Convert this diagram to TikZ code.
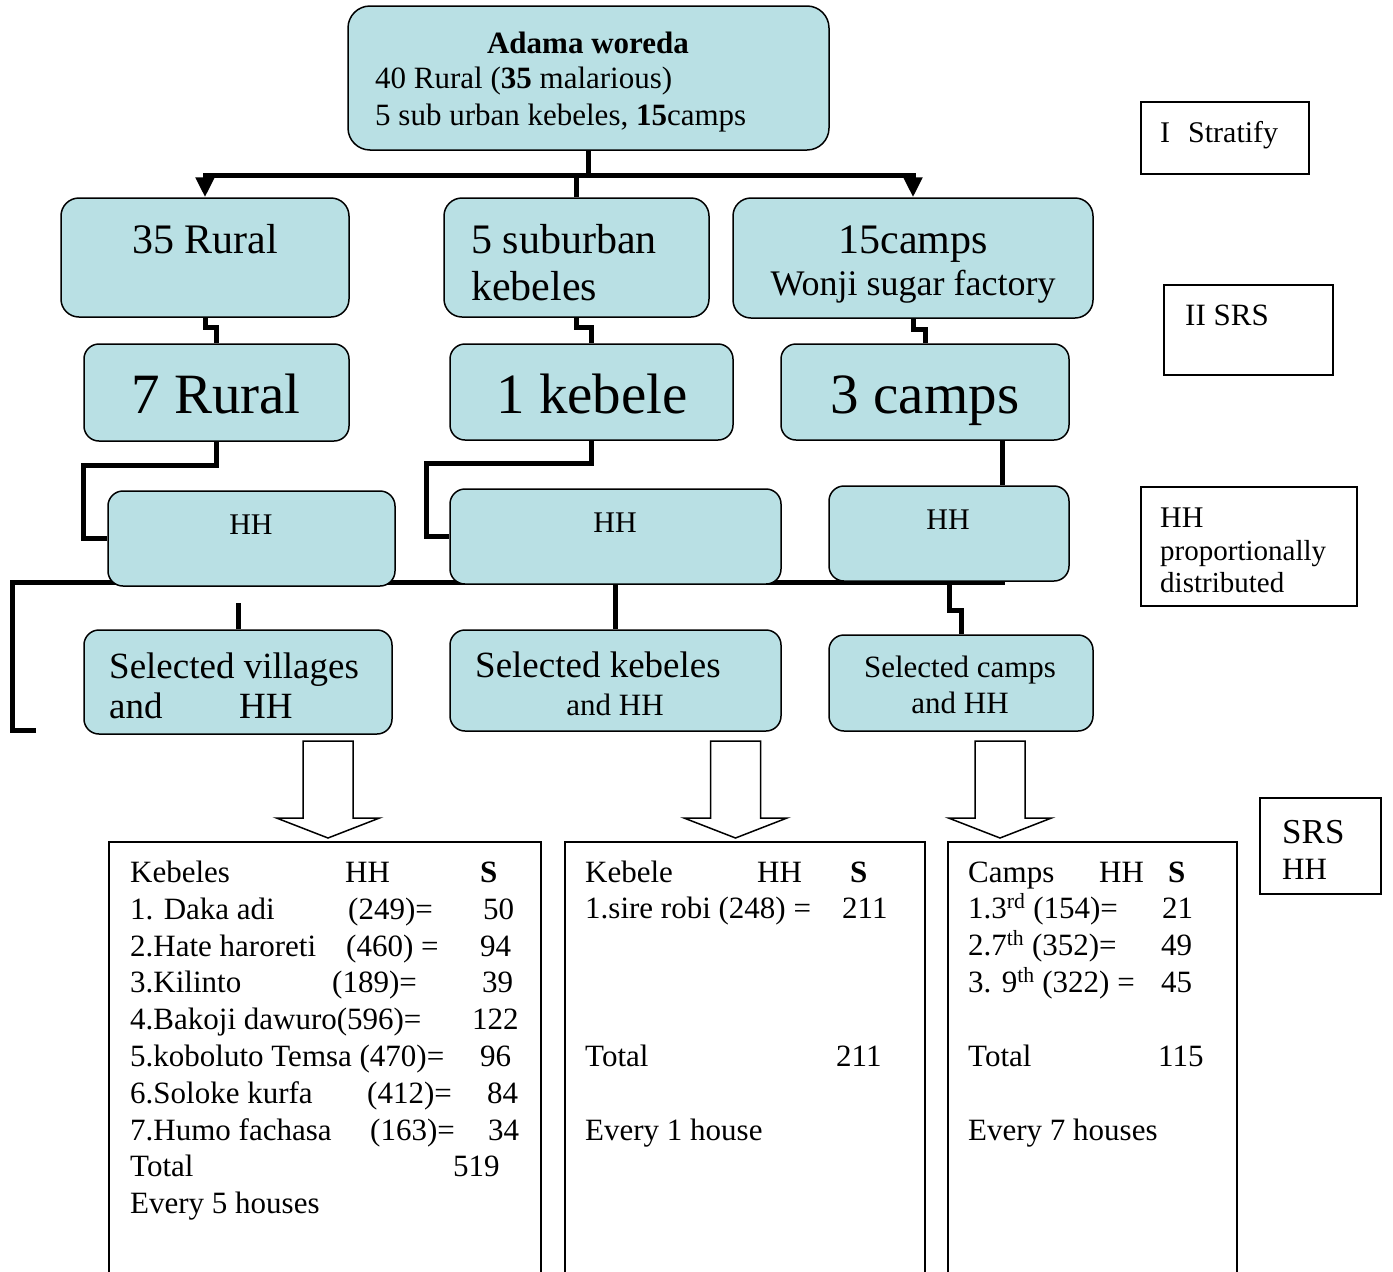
\documentclass[tikz,border=0pt]{standalone}
\usepackage{fontspec}
\setmainfont{Liberation Serif}
\usetikzlibrary{arrows.meta,calc}
\definecolor{boxblue}{RGB}{185,224,228}
\newcommand{\myfs}[1]{\fontsize{#1pt}{#1pt}\selectfont}
\pgfdeclarelayer{background}
\pgfsetlayers{background,main}
\tikzset{
  rbox/.style={draw=black, line width=1.5pt, fill=boxblue, rounded corners=18pt, inner sep=0pt},
  pbox/.style={draw=black, line width=1.5pt, fill=white, inner sep=0pt},
  conn/.style={line width=5pt},
  barrow/.style={draw=black, line width=1.5pt, fill=white, line join=miter},
  txt/.style={inner sep=0pt, anchor=base west},
  txtc/.style={inner sep=0pt, anchor=base},
}
\newcommand{\celltxt}[4]{\node[txt,font=\myfs{31}] (#1) at (#2,#3) {#4};}
\newcommand{\blockarrow}[1]{\draw[barrow] (#1-25,741) -- (#1+25,741) -- (#1+25,818) -- (#1+51.5,818) -- (#1,838) -- (#1-51.5,818) -- (#1-25,818) -- cycle;}
\begin{document}
\begin{tikzpicture}[x=1pt,y=-1pt]
\useasboundingbox (0,0) rectangle (1393,1272);
\clip (0,0) rectangle (1393,1272);

% ---------- boxes ----------
\node[rbox, rounded corners=22pt, minimum width=481pt, minimum height=144pt] (top) at (588.5,78) {};
\node[rbox, minimum width=288pt, minimum height=119pt] (r35) at (205,257.5) {};
\node[rbox, minimum width=265pt, minimum height=119pt] (r5s) at (576.5,257.5) {};
\node[rbox, minimum width=360pt, minimum height=120pt] (r15) at (913,258) {};
\node[rbox, rounded corners=15pt, minimum width=265pt, minimum height=97pt] (r7) at (216.5,392.5) {};
\node[rbox, rounded corners=15pt, minimum width=283pt, minimum height=96pt] (r1k) at (591.5,392) {};
\node[rbox, rounded corners=15pt, minimum width=288pt, minimum height=96pt] (r3c) at (925,392) {};
\node[rbox, rounded corners=15pt, minimum width=287pt, minimum height=95pt] (hh1) at (251.5,538.5) {};
\node[rbox, rounded corners=15pt, minimum width=331pt, minimum height=95pt] (hh2) at (615.5,536.5) {};
\node[rbox, rounded corners=15pt, minimum width=240pt, minimum height=95pt] (hh3) at (949,533.5) {};
\node[rbox, rounded corners=15pt, minimum width=308pt, minimum height=104pt] (sv) at (238,682) {};
\node[rbox, rounded corners=15pt, minimum width=331pt, minimum height=101pt] (sk) at (615.5,680.5) {};
\node[rbox, rounded corners=15pt, minimum width=264pt, minimum height=96pt] (sc) at (961,683) {};

\node[pbox, minimum width=168pt, minimum height=72pt] (l1) at (1225,138) {};
\node[pbox, minimum width=169pt, minimum height=90pt] (l2) at (1248.5,330) {};
\node[pbox, minimum width=216pt, minimum height=119pt] (l3) at (1249,546.5) {};
\node[pbox, minimum width=121pt, minimum height=96pt] (l4) at (1320.5,846) {};

\node[pbox, minimum width=432pt, minimum height=458pt] (b1) at (325,1071) {};
\node[pbox, minimum width=360pt, minimum height=458pt] (b2) at (745,1071) {};
\node[pbox, minimum width=289pt, minimum height=458pt] (b3) at (1092.5,1071) {};

% ---------- connectors ----------
\begin{pgfonlayer}{background}
\coordinate (tj) at (588,175);
\draw[conn, {Triangle[width=18pt,length=20pt]}-{Triangle[width=18pt,length=20pt]}] (r35.north) |- (tj) -| (r15.north);
\draw[conn] (top.south) -- (top.south |- tj);
\draw[conn] (r5s.north) -- (r5s.north |- tj);
\draw[conn] (r35.south) -- ++(0,10) -| (r7.north);
\draw[conn] (r5s.south) -- ++(0,10) -| (r1k.north);
\draw[conn] (r15.south) -- ++(0,11) -| (r3c.north);
\draw[conn] (r7.south) -- ++(0,24) -| ($(hh1.west)+(-24,0)$) -- (hh1.west);
\draw[conn] (r1k.south) -- ++(0,23) -| ($(hh2.west)+(-23,0)$) -- (hh2.west);
\draw[conn] ($(r3c.south)+(77,0)$) -- ($(hh3.north)+(53,0)$);
\coordinate (la) at (36,730);
\coordinate (lb) at (12,582);
\coordinate (lc) at (1005,582);
\draw[conn] (la) -| (lb) -- (lc);
\draw[conn] (sv.north) -- ++(0,-26);
\draw[conn] (hh2.south) -- (sk.north);
\draw[conn] (hh3.south) -- ++(0,29) -| (sc.north);
\end{pgfonlayer}

% ---------- block arrows ----------
\blockarrow{328}
\blockarrow{735.5}
\blockarrow{1000}

% ---------- texts ----------
\node[txtc, font=\myfs{31}\bfseries] (t1) at (588,53) {Adama woreda};
\node[txt, font=\myfs{31}] (t2) at (375,88) {40 Rural (\textbf{35} malarious)};
\node[txt, font=\myfs{31}] (t3) at (375,125) {5 sub urban kebeles, \textbf{15}camps};

\node[txtc, font=\myfs{42}] (t35) at (205,253) {35 Rural};
\node[txt, font=\myfs{42}] (t5a) at (471,253) {5 suburban};
\node[txt, font=\myfs{42}] (t5b) at (471,300) {kebeles};
\node[txtc, font=\myfs{42}] (t15a) at (913,253) {15camps};
\node[txtc, font=\myfs{36}] (t15b) at (913,295) {Wonji sugar factory};

\node[txtc, font=\myfs{57}] (t7) at (216,413) {7 Rural};
\node[txtc, font=\myfs{57}] (t1k) at (592,413) {1 kebele};
\node[txtc, font=\myfs{57}] (t3c) at (925,413) {3 camps};

\node[txtc, font=\myfs{30}] (th1) at (251,534) {HH};
\node[txtc, font=\myfs{30}] (th2) at (615,532) {HH};
\node[txtc, font=\myfs{30}] (th3) at (948,529) {HH};

\node[txt, font=\myfs{37}] (tsv1) at (109,678) {Selected villages};
\node[txt, font=\myfs{37}] (tsv2) at (109,718) {and};
\node[txt, font=\myfs{37}] (tsv3) at (239,718) {HH};
\node[txt, font=\myfs{37}] (tsk1) at (475,677) {Selected kebeles};
\node[txtc, font=\myfs{31}] (tsk2) at (615,715) {and HH};
\node[txtc, font=\myfs{31}] (tsc1) at (960,677) {Selected camps};
\node[txtc, font=\myfs{31}] (tsc2) at (960,713) {and HH};

\node[txt, font=\myfs{30}] (tl1) at (1160,142) {I\hspace{18pt}Stratify};
\node[txt, font=\myfs{31}] (tl2) at (1185,325) {II SRS};
\node[txt, font=\myfs{30}] (tl3a) at (1160,527) {HH};
\node[txt, font=\myfs{29}] (tl3b) at (1160,560) {proportionally};
\node[txt, font=\myfs{29}] (tl3c) at (1160,592) {distributed};
\node[txt, font=\myfs{35}] (tl4a) at (1282,843) {SRS};
\node[txt, font=\myfs{31}] (tl4b) at (1282,879) {HH};

% left table
\celltxt{k0a}{130}{882}{Kebeles}
\celltxt{k0b}{345}{882}{HH}
\celltxt{k0c}{480}{882}{\textbf{S}}
\celltxt{k1a}{130}{919}{1. Daka adi}
\celltxt{k1b}{348}{919}{(249)=}
\celltxt{k1c}{483}{919}{50}
\celltxt{k2a}{130}{956}{2.Hate haroreti}
\celltxt{k2b}{346}{956}{(460) =}
\celltxt{k2c}{480}{956}{94}
\celltxt{k3a}{130}{992}{3.Kilinto}
\celltxt{k3b}{332}{992}{(189)=}
\celltxt{k3c}{482}{992}{39}
\celltxt{k4a}{130}{1029}{4.Bakoji dawuro(596)=}
\celltxt{k4c}{472}{1029}{122}
\celltxt{k5a}{130}{1066}{5.koboluto Temsa (470)=}
\celltxt{k5c}{480}{1066}{96}
\celltxt{k6a}{130}{1103}{6.Soloke kurfa}
\celltxt{k6b}{367}{1103}{(412)=}
\celltxt{k6c}{487}{1103}{84}
\celltxt{k7a}{130}{1140}{7.Humo fachasa}
\celltxt{k7b}{370}{1140}{(163)=}
\celltxt{k7c}{488}{1140}{34}
\celltxt{k8a}{130}{1176}{Total}
\celltxt{k8c}{453}{1176}{519}
\celltxt{k9a}{130}{1213}{Every 5 houses}

% middle table
\celltxt{m0a}{585}{882}{Kebele}
\celltxt{m0b}{757}{882}{HH}
\celltxt{m0c}{850}{882}{\textbf{S}}
\celltxt{m1a}{585}{918}{1.sire robi (248) =}
\celltxt{m1c}{842}{918}{211}
\celltxt{m2a}{585}{1066}{Total}
\celltxt{m2c}{836}{1066}{211}
\celltxt{m3a}{585}{1140}{Every 1 house}

% right table
\celltxt{c0a}{968}{882}{Camps}
\celltxt{c0b}{1099}{882}{HH}
\celltxt{c0c}{1168}{882}{\textbf{S}}
\celltxt{c1a}{968}{918}{1.3\textsuperscript{rd} (154)=}
\celltxt{c1c}{1162}{918}{21}
\celltxt{c2a}{968}{955}{2.7\textsuperscript{th} (352)=}
\celltxt{c2c}{1161}{955}{49}
\celltxt{c3a}{968}{992}{3. 9\textsuperscript{th} (322) =}
\celltxt{c3c}{1161}{992}{45}
\celltxt{c4a}{968}{1066}{Total}
\celltxt{c4c}{1158}{1066}{115}
\celltxt{c5a}{968}{1140}{Every 7 houses}
\end{tikzpicture}
\end{document}
